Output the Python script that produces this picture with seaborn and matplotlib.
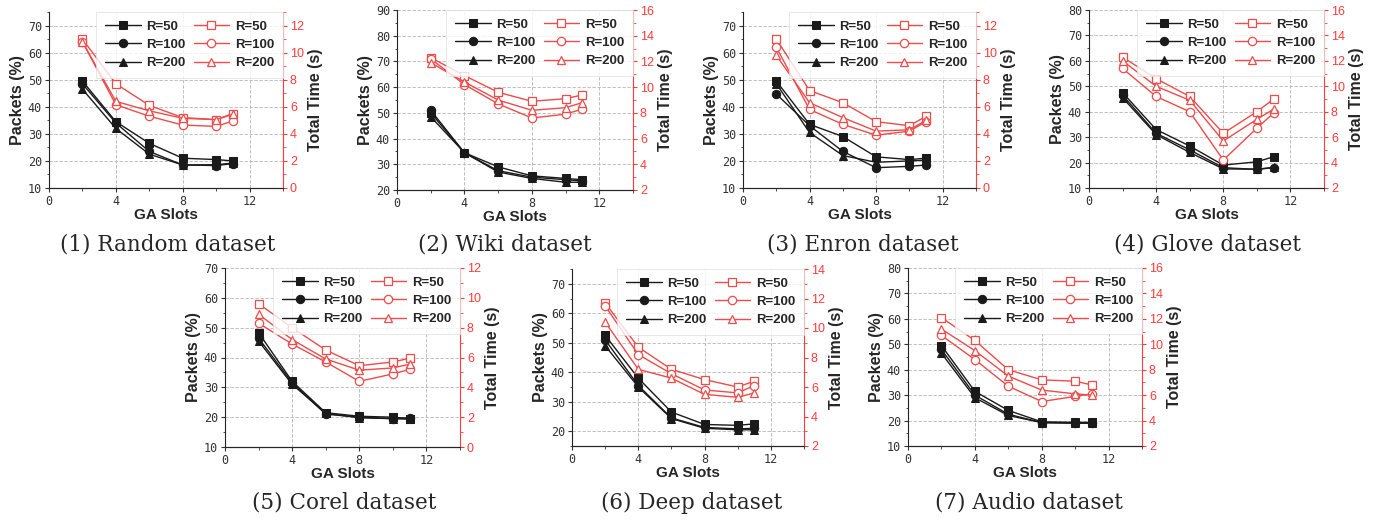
import numpy as np
import pandas as pd
import matplotlib
matplotlib.use("Agg")
import matplotlib.pyplot as plt
from matplotlib.ticker import MultipleLocator
import seaborn as sns

sns.set_style("ticks")
plt.rcParams["font.family"] = ["Liberation Sans", "DejaVu Sans"]

# GA slot counts used in every panel
slots = [2, 4, 6, 8, 10, 11]
radii = ["R=50", "R=100", "R=200"]

captions = ["(1) Random dataset", "(2) Wiki dataset", "(3) Enron dataset",
            "(4) Glove dataset", "(5) Corel dataset", "(6) Deep dataset",
            "(7) Audio dataset"]

# packets (%) per panel, rows = R=50, R=100, R=200
packets_random = [[49.5, 34.5, 26.5, 21.0, 20.5, 20.0],
                  [48.5, 34.0, 23.5, 18.5, 18.3, 19.0],
                  [46.5, 32.0, 22.5, 18.5, 18.6, 19.2]]
packets_wiki = [[50.0, 34.5, 29.0, 25.5, 24.5, 24.0],
                [51.0, 34.5, 27.5, 25.0, 24.0, 23.5],
                [48.5, 34.5, 27.0, 24.5, 23.0, 23.0]]
packets_enron = [[49.5, 33.5, 29.0, 21.5, 20.5, 21.0],
                 [44.7, 33.0, 23.5, 17.5, 18.0, 18.5],
                 [48.5, 30.5, 22.0, 19.5, 20.0, 20.3]]
packets_glove = [[47.5, 33.0, 26.5, 19.0, 20.3, 22.3],
                 [46.5, 31.5, 25.0, 18.0, 17.3, 18.0],
                 [45.5, 31.0, 24.0, 17.5, 17.4, 18.1]]
packets_corel = [[48.3, 32.0, 21.5, 20.3, 20.0, 19.5],
                 [46.5, 31.5, 21.0, 20.0, 19.5, 19.8],
                 [45.5, 31.0, 21.3, 19.8, 19.5, 19.3]]
packets_deep = [[52.5, 38.0, 26.5, 22.3, 22.0, 22.5],
                [51.0, 35.5, 24.5, 21.3, 20.8, 21.0],
                [49.0, 35.0, 24.3, 21.0, 20.5, 20.5]]
packets_audio = [[49.5, 31.5, 24.0, 19.5, 19.3, 19.3],
                 [48.0, 30.0, 22.5, 19.2, 19.0, 19.0],
                 [46.5, 29.0, 22.0, 19.2, 19.0, 19.0]]

# total time (s) per panel, rows = R=50, R=100, R=200
time_random = [[11.0, 7.7, 6.1, 5.2, 5.05, 5.5],
               [10.8, 6.15, 5.3, 4.65, 4.55, 4.95],
               [10.8, 6.4, 5.7, 5.15, 5.05, 5.45]]
time_wiki = [[12.3, 10.9, 9.6, 8.9, 9.1, 9.4],
             [12.2, 10.2, 8.7, 7.6, 7.9, 8.3],
             [11.9, 10.4, 9.0, 8.2, 8.4, 8.8]]
time_enron = [[11.0, 7.2, 6.3, 4.9, 4.6, 5.3],
              [10.4, 5.8, 4.7, 3.9, 4.2, 4.9],
              [9.8, 6.3, 5.2, 4.2, 4.3, 5.0]]
time_glove = [[12.3, 10.6, 9.2, 6.3, 8.0, 9.0],
              [11.4, 9.2, 8.0, 4.2, 6.7, 7.9],
              [12.0, 10.0, 8.9, 5.7, 7.4, 8.2]]
time_corel = [[9.6, 8.0, 6.5, 5.45, 5.7, 5.95],
              [8.3, 6.9, 5.7, 4.4, 4.9, 5.2],
              [8.9, 7.2, 5.9, 5.15, 5.3, 5.55]]
time_deep = [[11.7, 8.7, 7.2, 6.5, 6.0, 6.4],
             [11.5, 8.2, 6.9, 5.8, 5.6, 6.1],
             [10.4, 7.2, 6.6, 5.5, 5.3, 5.6]]
time_audio = [[12.1, 10.3, 8.0, 7.2, 7.1, 6.8],
              [10.7, 8.8, 6.7, 5.5, 5.9, 6.1],
              [11.2, 9.5, 7.5, 6.4, 6.1, 6.0]]

packets = [packets_random, packets_wiki, packets_enron, packets_glove,
           packets_corel, packets_deep, packets_audio]
times = [time_random, time_wiki, time_enron, time_glove,
         time_corel, time_deep, time_audio]

# axis ranges (left packets, right time)
left_lims = [(10, 75), (20, 90), (10, 75), (10, 80), (10, 70), (15, 75), (10, 80)]
right_lims = [(0, 13), (2, 16), (0, 13), (2, 16), (0, 12), (2, 14), (2, 16)]

W, H = 1387, 521
# axes boxes in pixels: left, top, right, bottom
boxes = [(49, 12, 283, 188), (397, 10, 633, 190), (743, 12, 976, 188),
         (1089, 10, 1324, 188), (225, 268, 460, 447), (572, 269, 804, 446),
         (908, 268, 1142, 446)]
cap_pos = [(168, 245), (505, 245), (863, 245), (1208, 245),
           (344, 503), (692, 503), (1029, 503)]

markers = ["s", "o", "^"]
black = "#1a1a1a"
red = "#f04a4a"
tick_red = "#ff3b3b"
mono = "DejaVu Sans Mono"

fig = plt.figure(figsize=(W / 100, H / 100), dpi=100)

for i in range(7):
    l, t, r, b = boxes[i]
    ax = fig.add_axes([l / W, 1 - b / H, (r - l) / W, (b - t) / H])
    ax2 = ax.twinx()

    for j, rad in enumerate(radii):
        df = pd.DataFrame({"slots": slots, "packets": packets[i][j], "time": times[i][j]})
        sns.lineplot(data=df, x="slots", y="packets", ax=ax, color=black,
                     marker=markers[j], markersize=6, markeredgecolor=black,
                     linewidth=1.0, label=rad)
        sns.lineplot(data=df, x="slots", y="time", ax=ax2, color=red,
                     marker=markers[j], markersize=6, markerfacecolor="white",
                     markeredgecolor=red, markeredgewidth=0.9,
                     linewidth=1.0, label=rad)

    h1, lb1 = ax.get_legend_handles_labels()
    h2, lb2 = ax2.get_legend_handles_labels()
    ax.get_legend().remove()
    ax2.get_legend().remove()
    leg = ax2.legend(h1 + h2, lb1 + lb2, ncol=2, loc="upper right",
                     borderaxespad=0.0, frameon=True, fancybox=False,
                     prop={"weight": "bold", "size": 9.5},
                     handlelength=2.7, columnspacing=0.6, labelspacing=0.45,
                     handletextpad=0.45, borderpad=0.65, markerscale=1.0)
    leg.get_frame().set_edgecolor("#dddddd")
    leg.get_frame().set_linewidth(0.6)

    ax.set_xlim(0, 14)
    ax.set_ylim(*left_lims[i])
    ax2.set_ylim(*right_lims[i])
    ax.xaxis.set_major_locator(MultipleLocator(4))
    ax.xaxis.set_minor_locator(MultipleLocator(2))
    ax.yaxis.set_major_locator(MultipleLocator(10))
    ax.yaxis.set_minor_locator(MultipleLocator(5))
    ax2.yaxis.set_major_locator(MultipleLocator(2))
    ax2.yaxis.set_minor_locator(MultipleLocator(1))

    ax.grid(True, which="major", linestyle=(0, (4, 2)), color="#b5b5b5", linewidth=0.6)
    ax.set_axisbelow(True)

    ax.set_xlabel("GA Slots", fontsize=11, fontweight="bold", labelpad=0)
    ax.set_ylabel("Packets (%)", fontsize=11.5, fontweight="bold", labelpad=2)
    ax2.set_ylabel("Total Time (s)", fontsize=11.5, fontweight="bold", labelpad=3)

    ax.tick_params(axis="both", which="major", length=3, width=0.8,
                   labelsize=8.5, colors="#333333", pad=2, labelfontfamily=mono)
    ax.tick_params(axis="both", which="minor", length=1.8, width=0.6, colors="#333333")
    ax2.tick_params(axis="y", which="major", length=3, width=0.8,
                    labelsize=9, colors=tick_red, pad=2)
    ax2.tick_params(axis="y", which="minor", length=1.8, width=0.6, colors=tick_red)

    for a in (ax, ax2):
        a.spines["top"].set_visible(False)
    ax2.spines["right"].set_color(tick_red)
    ax2.spines["left"].set_visible(False)
    ax.spines["right"].set_visible(False)
    ax.spines["left"].set_color("#222222")
    ax.spines["bottom"].set_color("#222222")

    cx, cy = cap_pos[i]
    fig.text(cx / W, 1 - cy / H, captions[i], ha="center", va="center",
             fontsize=15.5, family="DejaVu Serif")

fig.savefig("out.png", dpi=100)
